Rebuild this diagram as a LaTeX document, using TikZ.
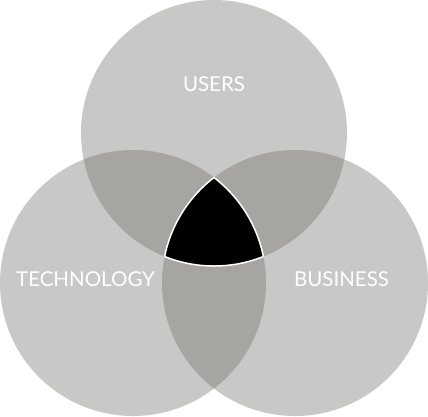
\documentclass[tikz,border=0pt]{standalone}
\usepackage{fontspec}
\setmainfont{Lato}
\definecolor{ringgray}{HTML}{C8C8C7}
\definecolor{lensgray}{HTML}{A6A5A2}
\def\ringr{133pt}
\def\ring(#1){(#1) circle (\ringr)}

\begin{document}
\begin{tikzpicture}[x=1pt, y=1pt,
    venntext/.style={text=white, font=\fontsize{20.5}{24}\selectfont, inner sep=0pt}]
			%%%%% START %%%%%
			\useasboundingbox (0, 0) rectangle (428, -416);
			
			\coordinate (users) at (214, -133);
			\coordinate (tech) at (133, -283);
			\coordinate (biz) at (295, -283);
			
			% the three rings
			\fill[ringgray] \ring(users);
			\fill[ringgray] \ring(tech);
			\fill[ringgray] \ring(biz);
			
			% pairwise lenses
			\begin{scope}
				\clip \ring(users);
				\fill[lensgray] \ring(tech);
				\fill[lensgray] \ring(biz);
			\end{scope}
			\begin{scope}
				\clip \ring(tech);
				\fill[lensgray] \ring(biz);
			\end{scope}
			
			% centre
			\begin{scope}
				\clip \ring(users);
				\clip \ring(tech);
				\fill[black] \ring(biz);
				\draw[white, line width=1.5pt] \ring(biz);
			\end{scope}
			\begin{scope}
				\clip \ring(users);
				\clip \ring(biz);
				\draw[white, line width=1.5pt] \ring(tech);
			\end{scope}
			\begin{scope}
				\clip \ring(tech);
				\clip \ring(biz);
				\draw[white, line width=1.5pt] \ring(users);
			\end{scope}
			
			\node[venntext] (userslabel) at (214, -84) {USERS};
			\node[venntext] (techlabel) at (85.5, -279.5) {TECHNOLOGY};
			\node[venntext] (bizlabel) at (341.5, -279.5) {BUSINESS};
			
			%%%%% END %%%%%
\end{tikzpicture}
\end{document}
